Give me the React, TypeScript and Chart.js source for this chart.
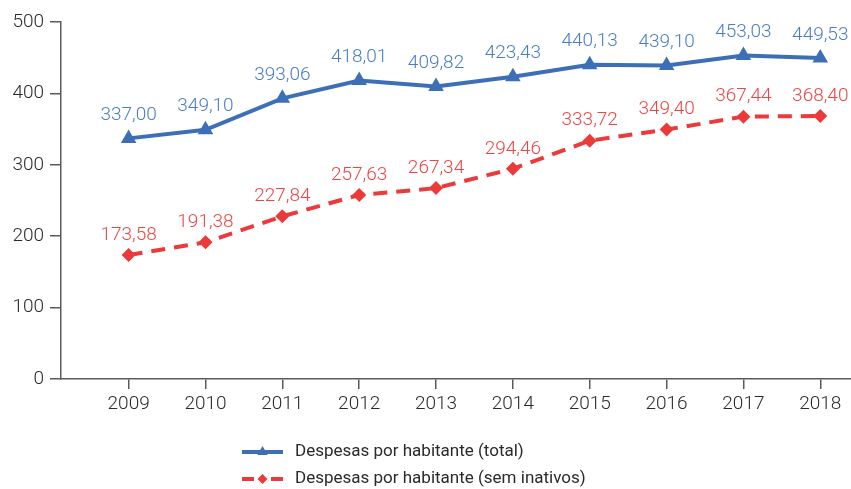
import React, { useEffect, useRef } from "react";
import { Chart, registerables } from "chart.js";

Chart.register(...registerables);

const years = [2009, 2010, 2011, 2012, 2013, 2014, 2015, 2016, 2017, 2018];
const totalValues = [337.0, 349.1, 393.06, 418.01, 409.82, 423.43, 440.13, 439.1, 453.03, 449.53];
const semInativosValues = [173.58, 191.38, 227.84, 257.63, 267.34, 294.46, 333.72, 349.4, 367.44, 368.4];
const yTicks = [0, 100, 200, 300, 400, 500];
const seriesLabels = ["Despesas por habitante (total)", "Despesas por habitante (sem inativos)"];

const BLUE = "#3c6fb6";
const BLUE_TEXT = "#4a7dc4";
const RED = "#ea3a3a";
const RED_TEXT = "#ee4444";
const AXIS = "#5a5a5a";
const TEXT = "#2a2a2a";
const FONT = "Roboto";

const fmt = (v: number) => v.toFixed(2).replace(".", ",");

const dataLabelPlugin = {
  id: "dataLabels",
  afterDatasetsDraw(chart: any) {
    const ctx = chart.ctx;
    ctx.save();
    ctx.font = `300 19px ${FONT}`;
    ctx.textAlign = "center";
    ctx.textBaseline = "middle";
    chart.data.datasets.forEach((ds: any, i: number) => {
      const meta = chart.getDatasetMeta(i);
      const off = i === 0 ? 23 : 20;
      ctx.fillStyle = i === 0 ? BLUE_TEXT : RED_TEXT;
      meta.data.forEach((pt: any, j: number) => {
        ctx.fillText(fmt(ds.data[j].y), pt.x, pt.y - off);
      });
    });
    ctx.restore();
  },
};

const customLegendPlugin = {
  id: "customLegend",
  afterDraw(chart: any) {
    const ctx = chart.ctx;
    const x0 = 242;
    const x1 = 283;
    const rows = [452, 479];
    ctx.save();
    ctx.strokeStyle = BLUE;
    ctx.lineWidth = 4;
    ctx.beginPath();
    ctx.moveTo(x0, rows[0]);
    ctx.lineTo(x1, rows[0]);
    ctx.stroke();
    ctx.fillStyle = BLUE;
    const r = 6;
    const cx = (x0 + x1) / 2;
    ctx.beginPath();
    ctx.moveTo(cx, rows[0] - r);
    ctx.lineTo(cx + r * 0.87, rows[0] + r * 0.5);
    ctx.lineTo(cx - r * 0.87, rows[0] + r * 0.5);
    ctx.closePath();
    ctx.fill();
    ctx.strokeStyle = RED;
    ctx.beginPath();
    ctx.moveTo(x0, rows[1]);
    ctx.lineTo(x0 + 12, rows[1]);
    ctx.moveTo(x1 - 12, rows[1]);
    ctx.lineTo(x1, rows[1]);
    ctx.stroke();
    ctx.fillStyle = RED;
    const d = 5;
    ctx.beginPath();
    ctx.moveTo(cx, rows[1] - d);
    ctx.lineTo(cx + d, rows[1]);
    ctx.lineTo(cx, rows[1] + d);
    ctx.lineTo(cx - d, rows[1]);
    ctx.closePath();
    ctx.fill();
    ctx.font = `17px ${FONT}`;
    ctx.fillStyle = TEXT;
    ctx.textAlign = "left";
    ctx.textBaseline = "middle";
    ctx.fillText(seriesLabels[0], 295, rows[0]);
    ctx.fillText(seriesLabels[1], 295, rows[1]);
    ctx.restore();
  },
};

export default function App() {
  const ref = useRef<HTMLCanvasElement>(null);

  useEffect(() => {
    document.body.style.margin = "0";
    const chart = new Chart(ref.current!, {
      type: "line",
      data: {
        datasets: [
          {
            label: seriesLabels[0],
            data: years.map((y, i) => ({ x: y, y: totalValues[i] })),
            borderColor: BLUE,
            backgroundColor: BLUE,
            borderWidth: 4,
            pointStyle: "triangle",
            pointRadius: 9,
            pointBorderWidth: 0,
            tension: 0,
            clip: false,
          },
          {
            label: seriesLabels[1],
            data: years.map((y, i) => ({ x: y, y: semInativosValues[i] })),
            borderColor: RED,
            backgroundColor: RED,
            borderWidth: 4,
            borderDash: [14, 9],
            pointStyle: "rectRot",
            pointRadius: 7,
            pointBorderWidth: 0,
            tension: 0,
            clip: false,
          },
        ],
      },
      options: {
        animation: false,
        responsive: false,
        maintainAspectRatio: false,
        layout: { autoPadding: false, padding: { top: 22, right: 0, left: 0, bottom: 0 } },
        plugins: {
          legend: { display: false },
          tooltip: { enabled: false },
        },
        scales: {
          x: {
            type: "linear",
            min: 2008.12,
            max: 2018.4,
            afterFit: (s: any) => {
              s.height = 110;
              s.paddingLeft = 0;
              s.paddingRight = 0;
            },
            afterBuildTicks: (s: any) => {
              s.ticks = years.map((v) => ({ value: v }));
            },
            grid: {
              drawOnChartArea: false,
              drawTicks: true,
              tickLength: 10,
              color: AXIS,
              lineWidth: 1.5,
            },
            border: { display: true, color: AXIS, width: 1.5 },
            ticks: {
              padding: 4,
              color: TEXT,
              font: { family: FONT, size: 19, weight: 300 },
              maxRotation: 0,
              callback: (v: any) => String(v),
            },
          },
          y: {
            min: 0,
            max: 500,
            afterFit: (s: any) => {
              s.width = 61;
              s.paddingTop = 0;
              s.paddingBottom = 0;
            },
            afterBuildTicks: (s: any) => {
              s.ticks = yTicks.map((v) => ({ value: v }));
            },
            grid: {
              drawOnChartArea: false,
              drawTicks: true,
              tickLength: 11,
              color: AXIS,
              lineWidth: 1.5,
            },
            border: { display: true, color: AXIS, width: 1.5 },
            ticks: {
              padding: 6,
              color: TEXT,
              font: { family: FONT, size: 19, weight: 300 },
            },
          },
        },
      },
      plugins: [dataLabelPlugin, customLegendPlugin],
    });
    return () => chart.destroy();
  }, []);

  return (
    <div style={{ width: 851, height: 489, background: "#fff" }}>
      <canvas ref={ref} width={851} height={489} style={{ display: "block" }} />
    </div>
  );
}
